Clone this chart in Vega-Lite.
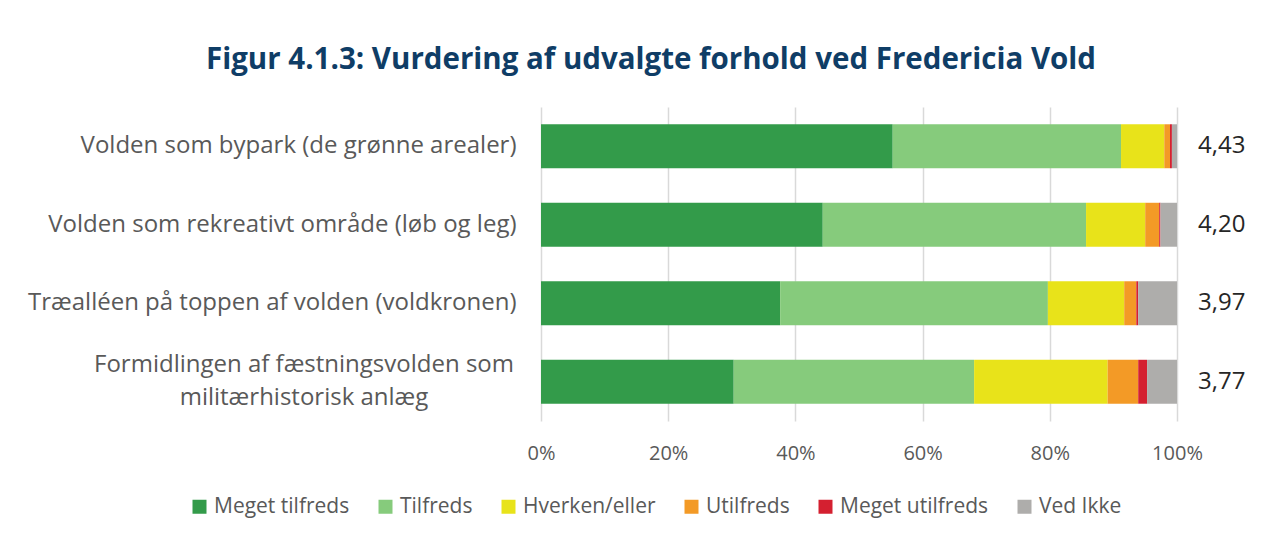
{
  "$schema": "https://vega.github.io/schema/vega-lite/v6.json",
  "autosize": {"type": "none"},
  "padding": {"left": 541, "top": 107, "right": 106, "bottom": 114},
  "width": 636,
  "height": 314,
  "background": "white",
  "config": {
    "font": "Open Sans",
    "view": {"stroke": null}
  },
  "title": {
    "text": "Figur 4.1.3: Vurdering af udvalgte forhold ved Fredericia Vold",
    "font": "Open Sans",
    "fontSize": 29.5,
    "fontWeight": "bold",
    "color": "#0F3D66",
    "anchor": "middle",
    "dx": -208,
    "offset": 32
  },
  "datasets": {
    "scores": [
      {"item": "Volden som bypark (de grønne arealer)", "score": "4,43"},
      {"item": "Volden som rekreativt område (løb og leg)", "score": "4,20"},
      {"item": "Træalléen på toppen af volden (voldkronen)", "score": "3,97"},
      {"item": "Formidlingen af fæstningsvolden som militærhistorisk anlæg", "score": "3,77"}
    ]
  },
  "layer": [
    {
      "data": {
        "values": [
          {"item": "Volden som bypark (de grønne arealer)", "category": "Meget tilfreds", "k": 1, "value": 0.553},
          {"item": "Volden som bypark (de grønne arealer)", "category": "Tilfreds", "k": 2, "value": 0.359},
          {"item": "Volden som bypark (de grønne arealer)", "category": "Hverken/eller", "k": 3, "value": 0.068},
          {"item": "Volden som bypark (de grønne arealer)", "category": "Utilfreds", "k": 4, "value": 0.009},
          {"item": "Volden som bypark (de grønne arealer)", "category": "Meget utilfreds", "k": 5, "value": 0.003},
          {"item": "Volden som bypark (de grønne arealer)", "category": "Ved Ikke", "k": 6, "value": 0.008},
          {"item": "Volden som rekreativt område (løb og leg)", "category": "Meget tilfreds", "k": 1, "value": 0.443},
          {"item": "Volden som rekreativt område (løb og leg)", "category": "Tilfreds", "k": 2, "value": 0.414},
          {"item": "Volden som rekreativt område (løb og leg)", "category": "Hverken/eller", "k": 3, "value": 0.093},
          {"item": "Volden som rekreativt område (løb og leg)", "category": "Utilfreds", "k": 4, "value": 0.022},
          {"item": "Volden som rekreativt område (løb og leg)", "category": "Meget utilfreds", "k": 5, "value": 0.002},
          {"item": "Volden som rekreativt område (løb og leg)", "category": "Ved Ikke", "k": 6, "value": 0.026},
          {"item": "Træalléen på toppen af volden (voldkronen)", "category": "Meget tilfreds", "k": 1, "value": 0.376},
          {"item": "Træalléen på toppen af volden (voldkronen)", "category": "Tilfreds", "k": 2, "value": 0.421},
          {"item": "Træalléen på toppen af volden (voldkronen)", "category": "Hverken/eller", "k": 3, "value": 0.12},
          {"item": "Træalléen på toppen af volden (voldkronen)", "category": "Utilfreds", "k": 4, "value": 0.019},
          {"item": "Træalléen på toppen af volden (voldkronen)", "category": "Meget utilfreds", "k": 5, "value": 0.003},
          {"item": "Træalléen på toppen af volden (voldkronen)", "category": "Ved Ikke", "k": 6, "value": 0.061},
          {"item": "Formidlingen af fæstningsvolden som militærhistorisk anlæg", "category": "Meget tilfreds", "k": 1, "value": 0.303},
          {"item": "Formidlingen af fæstningsvolden som militærhistorisk anlæg", "category": "Tilfreds", "k": 2, "value": 0.378},
          {"item": "Formidlingen af fæstningsvolden som militærhistorisk anlæg", "category": "Hverken/eller", "k": 3, "value": 0.21},
          {"item": "Formidlingen af fæstningsvolden som militærhistorisk anlæg", "category": "Utilfreds", "k": 4, "value": 0.048},
          {"item": "Formidlingen af fæstningsvolden som militærhistorisk anlæg", "category": "Meget utilfreds", "k": 5, "value": 0.014},
          {"item": "Formidlingen af fæstningsvolden som militærhistorisk anlæg", "category": "Ved Ikke", "k": 6, "value": 0.047}
        ]
      },
      "mark": {"type": "bar"},
      "encoding": {
        "y": {
          "field": "item",
          "type": "nominal",
          "sort": null,
          "scale": {"paddingInner": 0.44, "paddingOuter": 0.22},
          "axis": {
            "title": null,
            "domain": false,
            "ticks": false,
            "labelFontSize": 24,
            "labelColor": "#595959",
            "labelPadding": 25,
            "labelLimit": 700,
            "labelExpr": "indexof(datum.value, 'Formidlingen') == 0 ? '' : datum.value"
          }
        },
        "x": {
          "field": "value",
          "type": "quantitative",
          "stack": "zero",
          "scale": {"domain": [0, 1], "nice": false},
          "axis": {
            "title": null,
            "format": ".0%",
            "values": [0, 0.2, 0.4, 0.6, 0.8, 1],
            "domain": false,
            "ticks": false,
            "grid": true,
            "gridColor": "#D9D9D9",
            "gridWidth": 1.5,
            "labelFlush": false,
            "labelFontSize": 20,
            "labelColor": "#595959",
            "labelPadding": 22
          }
        },
        "order": {"field": "k", "type": "quantitative"},
        "color": {
          "field": "category",
          "type": "nominal",
          "scale": {
            "domain": ["Meget tilfreds", "Tilfreds", "Hverken/eller", "Utilfreds", "Meget utilfreds", "Ved Ikke"],
            "range": ["#339B4A", "#86CB7C", "#E8E31A", "#F39A26", "#D42030", "#AEADAB"]
          },
          "legend": {
            "title": null,
            "orient": "none",
            "direction": "horizontal",
            "legendX": -352,
            "legendY": 389,
            "symbolType": "square",
            "symbolSize": 196,
            "symbolStrokeWidth": 0,
            "labelFontSize": 21,
            "labelColor": "#595959",
            "columnPadding": 25,
            "labelOffset": 4
          }
        }
      }
    },
    {
      "data": {"name": "scores"},
      "mark": {"type": "text", "align": "left", "baseline": "middle", "dx": 21, "fontSize": 24, "color": "#262626"},
      "encoding": {
        "y": {"field": "item", "type": "nominal", "sort": null},
        "x": {"datum": 1},
        "text": {"field": "score"}
      }
    },
    {
      "data": {"name": "scores"},
      "transform": [{"filter": "indexof(datum.item, 'Formidlingen') == 0"}],
      "mark": {"type": "text", "align": "center", "baseline": "middle", "dx": -237, "dy": -17, "fontSize": 24, "color": "#595959", "lineHeight": 33, "lineBreak": "|"},
      "encoding": {
        "y": {"field": "item", "type": "nominal", "sort": null},
        "x": {"datum": 0},
        "text": {"value": "Formidlingen af fæstningsvolden som|militærhistorisk anlæg"}
      }
    }
  ]
}
